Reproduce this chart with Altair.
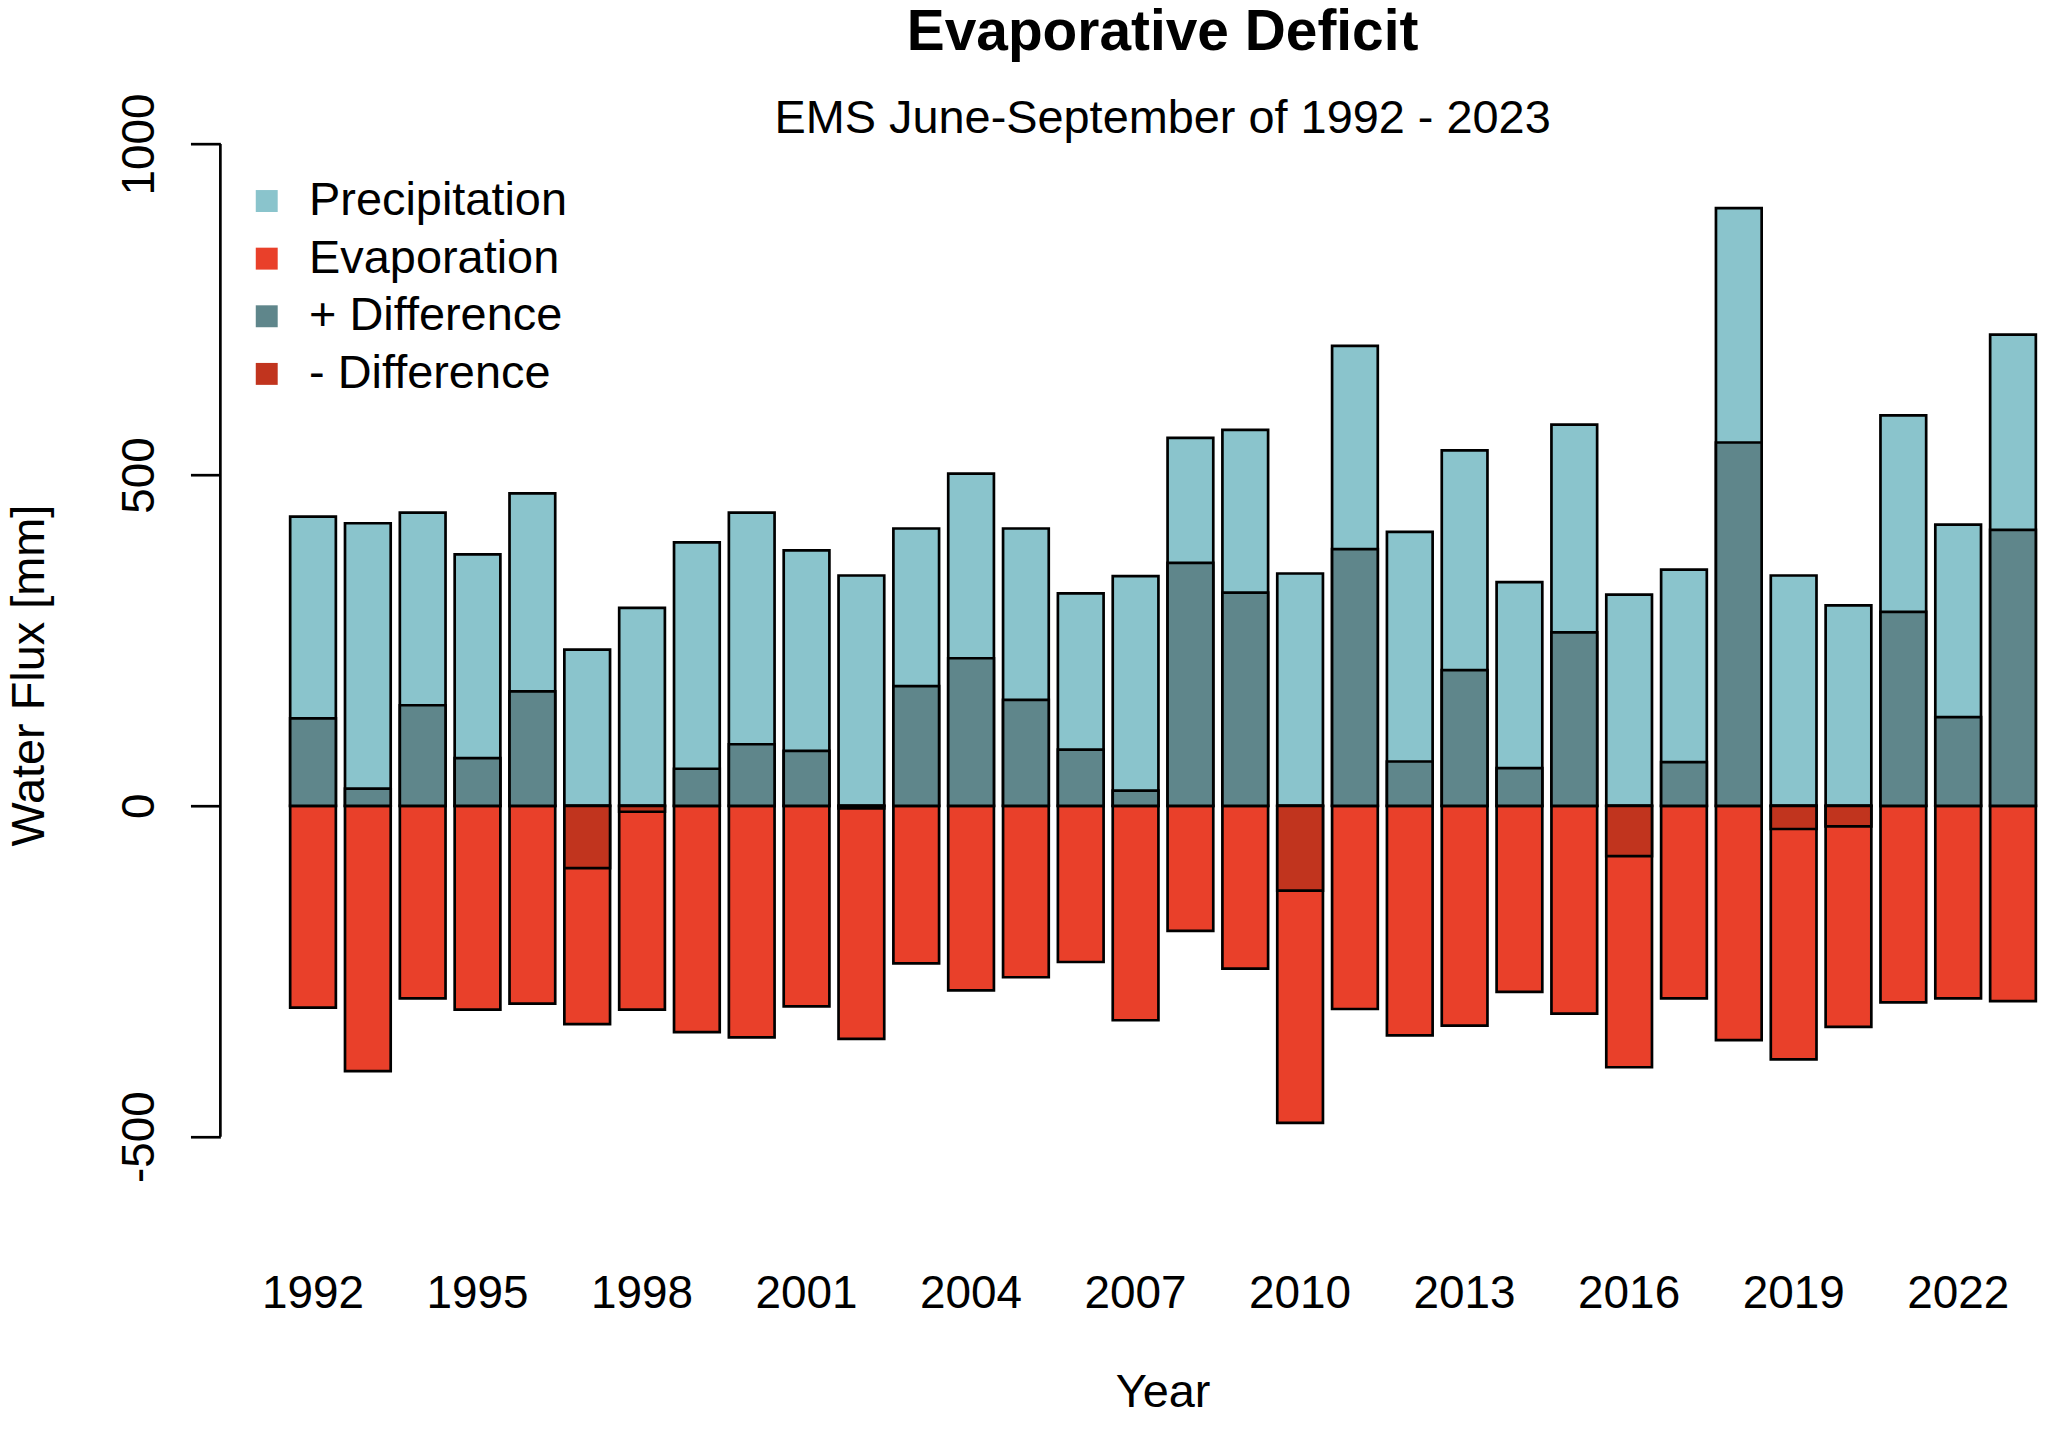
import altair as alt
import pandas as pd

# ---- data (mm, June-September) ----
years = list(range(1992, 2024))
precipitation = [437, 427, 443, 380, 472, 236, 299, 398, 443, 386,
                 348, 419, 502, 419, 321, 347, 556, 568, 351, 695,
                 414, 537, 338, 576, 319, 357, 903, 348, 303, 590,
                 425, 712]
evaporation = [305, 401, 291, 308, 299, 330, 308, 342, 350, 303,
               352, 238, 279, 259, 236, 324, 189, 246, 479, 307,
               347, 332, 281, 314, 395, 291, 354, 383, 334, 297,
               291, 295]
series_names = ["Precipitation", "Evaporation", "+ Difference", "- Difference"]
series_colors = ["#8AC4CC", "#E9402A", "#5F868B", "#C1341E"]
y_ticks = [-500, 0, 500, 1000]
x_label_years = years[::3]

# ---- long table: precipitation, evaporation, then difference drawn on top ----
rows = []
for yr, p in zip(years, precipitation):
    rows.append({"year": yr, "series": "Precipitation", "lo": 0, "hi": p})
for yr, e in zip(years, evaporation):
    rows.append({"year": yr, "series": "Evaporation", "lo": 0, "hi": -e})
for yr, p, e in zip(years, precipitation, evaporation):
    d = p - e
    rows.append({"year": yr, "series": "+ Difference" if d >= 0 else "- Difference",
                 "lo": 0, "hi": d})
df = pd.DataFrame(rows)
df["order"] = range(len(df))

axis_df = pd.DataFrame({"lo": [min(y_ticks)], "hi": [max(y_ticks)]})

FONT = "Liberation Sans"

yscale = alt.Scale(domain=[-607, 1002], nice=False, zero=False)

bars = alt.Chart(df).mark_bar(stroke="black", strokeWidth=2.7, opacity=1).encode(
    x=alt.X("year:O",
            scale=alt.Scale(paddingInner=1/6, paddingOuter=0.6742, align=0.9438),
            axis=alt.Axis(values=x_label_years, labelAngle=0, labelFontSize=46,
                          labelColor="black", labelFont=FONT,
                          labelBaseline="alphabetic", labelPadding=100,
                          ticks=False, tickSize=0, domain=False, grid=False,
                          title="Year", titleFontSize=47, titleFont=FONT,
                          titleFontWeight="normal", titleColor="black",
                          titleBaseline="alphabetic", titleAlign="center",
                          titleX=945, titleY=200)),
    y=alt.Y("lo:Q", scale=yscale,
            axis=alt.Axis(values=y_ticks, labelExpr="'' + datum.value",
                          labelAngle=270, labelAlign="center",
                          labelBaseline="alphabetic", labelPadding=37,
                          labelFontSize=46, labelColor="black", labelFont=FONT,
                          tickSize=30, tickWidth=2.7, tickColor="black",
                          domain=False, grid=False,
                          title="Water Flux [mm]", titleFontSize=47, titleFont=FONT,
                          titleFontWeight="normal", titleColor="black",
                          titleAngle=270, titleBaseline="alphabetic",
                          titleAlign="center", titleX=-177, titleY=534)),
    y2="hi:Q",
    color=alt.Color("series:N",
                    scale=alt.Scale(domain=series_names, range=series_colors),
                    legend=alt.Legend(title=None, orient="none", legendX=23, legendY=35,
                                      symbolType="square", symbolSize=484,
                                      symbolStrokeWidth=0, symbolStrokeColor="transparent",
                                      symbolOpacity=1,
                                      labelFontSize=47, labelFont=FONT, labelColor="black",
                                      labelBaseline="middle", labelOffset=19,
                                      labelLimit=0, rowPadding=9.8, padding=0)),
    order=alt.Order("order:Q"),
)

axis_line = alt.Chart(axis_df).mark_rule(color="black", strokeWidth=2.7).encode(
    y=alt.Y("lo:Q", scale=yscale),
    y2="hi:Q",
    x=alt.value(0),
)

chart = alt.layer(bars, axis_line).properties(
    width=1825,
    height=1068,
    background="white",
    autosize=alt.AutoSizeParams(type="none"),
    padding={"left": 213, "top": 133, "right": 0, "bottom": 210},
    title=alt.Title("Evaporative Deficit",
                    subtitle="EMS June-September of 1992 - 2023",
                    font=FONT, fontSize=57, fontWeight="bold", color="black",
                    subtitleFont=FONT, subtitleFontSize=47, subtitleColor="black",
                    anchor="middle", frame="group", dx=32.5, offset=-50,
                    subtitlePadding=34),
).configure_view(stroke=None)

chart.save("out.html", embed_options={"renderer": "svg", "actions": False})
